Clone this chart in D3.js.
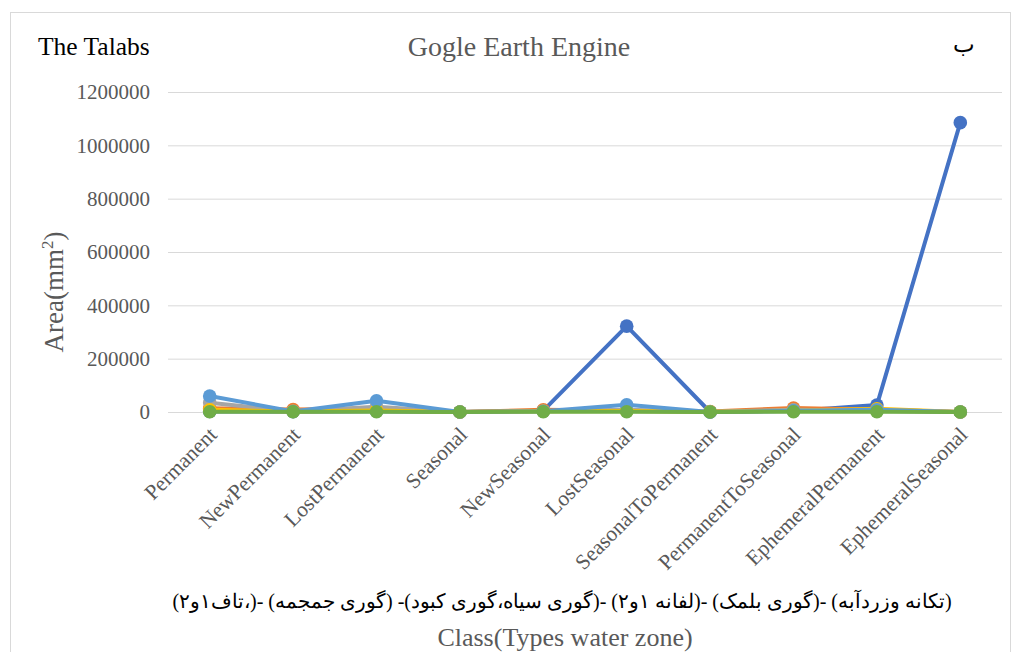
<!DOCTYPE html>
<html><head><meta charset="utf-8">
<script src="https://cdn.jsdelivr.net/npm/d3@7"></script>
<style>
html,body{margin:0;padding:0;background:#fff;}
svg text{font-family:"Liberation Serif","Times New Roman",serif;}
</style></head>
<body><svg id="c" width="1016" height="652"></svg>
<script>
const categories = ["Permanent","NewPermanent","LostPermanent","Seasonal","NewSeasonal","LostSeasonal","SeasonalToPermanent","PermanentToSeasonal","EphemeralPermanent","EphemeralSeasonal"];
const seriesNames = ["S1","S2","S3","S4","S5","S6"];
const s1 = [2000, 1000, 3000, 0, 5000, 322000, 0, 4000, 26000, 1085000];
const s2 = [14000, 9000, 12000, 0, 8000, 5000, 2000, 15000, 8000, 0];
const s3 = [35000, 3000, 20000, 0, 3000, 8000, 1000, 8000, 5000, 0];
const s4 = [8000, 2000, 6000, 0, 3000, 4000, 1000, 5000, 12000, 0];
const s5 = [60000, 2000, 42000, 0, 3000, 27000, 0, 5000, 8000, 0];
const s6 = [1000, 1000, 1000, 0, 1000, 1000, 0, 1000, 1000, 0];
const seriesColors = ["#4472C4","#ED7D31","#A5A5A5","#FFC000","#5B9BD5","#70AD47"];
const yTicks = [0,200000,400000,600000,800000,1000000,1200000];
const legendText = "(تکانه وزردآبه) -(گوری بلمک) -(لفانه ۱و۲) -(گوری سیاه،گوری کبود)- (گوری جمجمه) -(،تاف۱و۲)";

(function(){
const series = [s1,s2,s3,s4,s5,s6];
const drawOrder = [0,1,2,3,4,5];

const svg = d3.select("#c");
svg.append("rect").attr("x",10.5).attr("y",12.5).attr("width",1000).attr("height",660)
  .attr("fill","#fff").attr("stroke","#d9d9d9").attr("stroke-width",1);

const pL = 168, pR = 1002, pT = 92, pB = 412;
const x = d3.scalePoint().domain(categories).range([pL,pR]).padding(0.5);
const y = d3.scaleLinear().domain([0,1200000]).range([pB,pT]);

svg.append("g").selectAll("line").data(yTicks).join("line")
  .attr("x1",pL).attr("x2",pR)
  .attr("y1",d=>y(d)+0.5).attr("y2",d=>y(d)+0.5)
  .attr("stroke","#d9d9d9").attr("stroke-width",1);

const yAxis = d3.axisLeft(y).tickValues(yTicks).tickSize(0).tickPadding(0).tickFormat(d3.format("d"));
const ga = svg.append("g").attr("transform",`translate(150,0)`).call(yAxis);
ga.select(".domain").remove();
ga.selectAll("text").attr("font-size",21).attr("fill","#595959")
  .attr("font-family","Liberation Serif");

const xAxis = d3.axisBottom(x).tickSize(0).tickPadding(0);
const gx = svg.append("g").attr("transform",`translate(0,${pB})`).call(xAxis);
gx.select(".domain").remove();
gx.selectAll("text").attr("font-size",21.5).attr("fill","#595959")
  .attr("font-family","Liberation Serif")
  .attr("text-anchor","end").attr("dy",null).attr("y",0)
  .attr("transform","translate(8,24) rotate(-45)");

const line = d3.line().x((d,i)=>x(categories[i])).y(d=>y(d));
drawOrder.forEach(k=>{
  const g = svg.append("g");
  g.append("path").datum(series[k]).attr("d",line).attr("fill","none")
    .attr("stroke",seriesColors[k]).attr("stroke-width",4).attr("stroke-linejoin","round");
  g.selectAll("circle").data(series[k]).join("circle")
    .attr("cx",(d,i)=>x(categories[i])).attr("cy",d=>y(d)).attr("r",6.8)
    .attr("fill",seriesColors[k]);
});

svg.append("text").attr("x",38).attr("y",55).attr("font-size",25.5).attr("fill","#000").text("The Talabs");
svg.append("text").attr("x",519).attr("y",56).attr("text-anchor","middle").attr("font-size",28).attr("fill","#595959").text("Gogle Earth Engine");
svg.append("text").attr("x",964).attr("y",52).attr("text-anchor","middle").attr("font-size",23).attr("fill","#000").attr("font-family","DejaVu Sans").text("ب");
svg.append("text").attr("transform","translate(63,292) rotate(-90)").attr("text-anchor","middle")
  .attr("font-size",27).attr("fill","#595959")
  .call(t=>{t.append("tspan").text("Area(mm"); t.append("tspan").attr("font-size",17).attr("dy",-10).text("2"); t.append("tspan").attr("dy",10).text(")");});
svg.append("text").attr("x",565).attr("y",646).attr("text-anchor","middle").attr("font-size",26).attr("fill","#595959").text("Class(Types water zone)");
svg.append("text").attr("x",562).attr("y",608).attr("text-anchor","middle").attr("direction","rtl")
  .attr("font-size",20).attr("fill","#000").attr("font-family","Noto Sans").text(legendText);
})();
</script></body></html>
